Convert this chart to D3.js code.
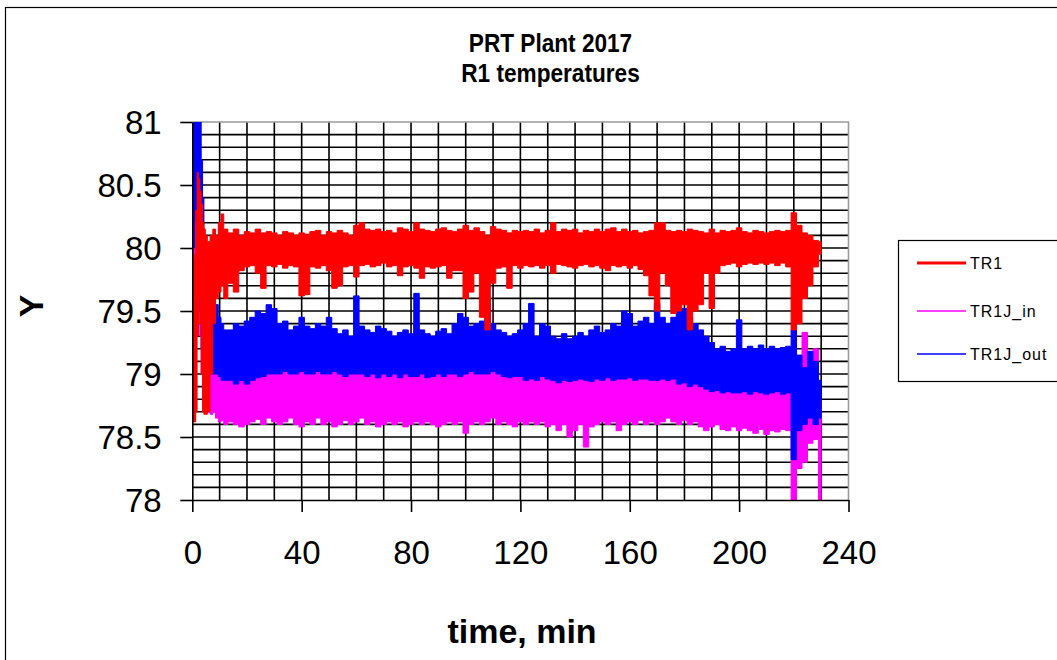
<!DOCTYPE html>
<html>
<head>
<meta charset="utf-8">
<script src="https://cdn.jsdelivr.net/npm/d3@7"></script>
<style>
  html, body { margin: 0; padding: 0; background: #fff; }
  svg { display: block; font-family: "Liberation Sans", Arial, sans-serif; }
</style>
</head>
<body>
<svg id="chart" width="1057" height="660"></svg>
<script>
// ---- data ----
const time = [0,0.5,1,1.5,2,2.5,3,3.5,4,4.5,5,6,7,8,9,10,11,12,
  14,16,18,20,22,24,26,28,30,32,34,36,38,40,42,44,46,48,50,52,54,56,58,
  60,62,64,66,68,70,72,74,76,78,80,82,84,86,88,90,92,94,96,98,100,102,104,106,108,110,112,114,116,118,
  120,122,124,126,128,130,132,134,136,138,140,142,144,146,148,150,152,154,156,158,160,162,164,166,168,170,172,174,176,178,
  180,182,184,186,188,190,192,194,196,198,200,202,204,206,208,210,212,214,216,218,220,222,224,226,228,230];

const tr1Hi = [80.0,79.95,79.9,80.3,80.6,80.55,80.45,80.35,80.2,80.15,80.1,80.05,80.1,80.15,80.1,80.2,80.27,80.15,
  80.12,80.15,80.1,80.13,80.12,80.15,80.12,80.13,80.12,80.1,80.13,80.12,80.1,80.12,80.11,80.13,80.14,80.1,80.13,80.12,80.14,80.12,80.1,
  80.18,80.2,80.15,80.14,80.15,80.13,80.14,80.12,80.16,80.15,80.13,80.2,80.15,80.14,80.13,80.15,80.16,80.14,80.13,80.15,80.18,80.14,80.16,80.13,80.1,80.17,80.15,80.14,80.12,80.14,
  80.13,80.14,80.13,80.15,80.12,80.14,80.2,80.13,80.15,80.14,80.15,80.12,80.14,80.13,80.15,80.13,80.15,80.16,80.13,80.15,80.13,80.14,80.12,80.13,80.14,80.2,80.2,80.14,80.13,80.14,
  80.13,80.15,80.14,80.13,80.12,80.15,80.12,80.14,80.13,80.14,80.16,80.13,80.12,80.14,80.13,80.12,80.13,80.14,80.13,80.14,80.28,80.18,80.12,80.1,80.06,80.05];
const tr1Lo = [79.85,78.62,78.62,78.7,79.3,79.6,79.4,79.0,78.7,78.68,78.68,78.7,79.0,79.4,79.6,79.65,79.7,79.6,
  79.72,79.65,79.82,79.85,79.86,79.8,79.68,79.86,79.85,79.87,79.84,79.86,79.85,79.62,79.63,79.85,79.84,79.86,79.82,79.68,79.7,79.85,79.86,
  79.77,79.86,79.87,79.85,79.86,79.88,79.85,79.86,79.78,79.85,79.86,79.84,79.76,79.85,79.84,79.85,79.86,79.76,79.82,79.82,79.6,79.65,79.8,79.45,79.35,79.72,79.84,79.85,79.68,79.86,
  79.84,79.86,79.85,79.86,79.84,79.86,79.8,79.87,79.86,79.85,79.84,79.86,79.87,79.85,79.86,79.84,79.82,79.86,79.85,79.86,79.84,79.86,79.83,79.78,79.62,79.5,79.8,79.7,79.48,79.5,
  79.55,79.35,79.5,79.55,79.8,79.52,79.8,79.86,79.87,79.88,79.85,79.87,79.88,79.87,79.88,79.87,79.88,79.86,79.88,79.85,79.35,79.4,79.6,79.7,79.85,79.95];

const inHi = [79.6,80.0,80.5,80.85,80.7,80.4,80.3,80.0,79.6,79.3,79.3,79.25,79.3,79.2,79.15,79.1,79.12,79.05,
  79.1,79.05,79.02,79.1,79.05,79.08,79.15,79.05,79.1,79.05,79.1,79.08,79.05,79.12,79.05,79.08,79.1,79.05,79.1,79.05,79.08,79.05,79.06,
  79.1,79.05,79.08,79.05,79.1,79.06,79.05,79.08,79.05,79.1,79.06,79.4,79.05,79.08,79.05,79.1,79.05,79.08,79.05,79.1,79.15,79.05,79.08,79.1,79.12,79.05,79.08,79.05,79.06,79.05,
  79.05,79.08,79.1,79.05,79.08,79.05,79.06,79.05,79.08,79.05,79.06,79.1,79.05,79.08,79.05,79.06,79.05,79.08,79.1,79.12,79.05,79.08,79.06,79.1,79.05,79.2,79.1,79.08,79.1,79.15,
  79.2,79.15,79.3,79.1,79.05,79.02,79.0,79.02,78.98,79.0,79.05,78.98,79.0,79.02,78.98,79.0,79.05,79.0,78.98,79.0,79.0,78.9,79.33,79.0,79.2,78.8];
const inLo = [79.4,79.5,79.6,79.7,79.6,79.5,79.3,79.0,78.8,78.72,78.7,78.7,78.68,78.7,78.65,78.62,78.63,78.6,
  78.62,78.6,78.58,78.6,78.62,78.64,78.6,78.65,78.62,78.6,78.62,78.65,78.6,78.58,78.62,78.6,78.65,78.6,78.62,78.58,78.6,78.63,78.6,
  78.62,78.65,78.6,78.62,78.58,78.6,78.62,78.6,78.62,78.58,78.6,78.62,78.6,78.62,78.6,78.58,78.6,78.62,78.6,78.62,78.53,78.6,78.62,78.6,78.62,78.65,78.6,78.62,78.6,78.58,
  78.62,78.6,78.62,78.6,78.62,78.58,78.6,78.55,78.6,78.5,78.55,78.6,78.42,78.58,78.6,78.62,78.6,78.62,78.55,78.6,78.62,78.6,78.63,78.6,78.62,78.6,78.62,78.65,78.62,78.6,
  78.63,78.6,78.62,78.58,78.55,78.58,78.6,78.56,78.55,78.58,78.55,78.57,78.55,78.53,78.56,78.52,78.55,78.54,78.56,78.55,78.0,78.25,78.3,78.45,78.48,78.0];

const outHi = [80.5,81.2,81.2,81.2,81.0,81.2,81.2,80.7,80.4,80.0,79.9,79.8,79.65,79.6,79.55,79.45,79.4,79.35,
  79.35,79.4,79.38,79.42,79.45,79.5,79.48,79.55,79.52,79.4,79.42,79.35,79.38,79.45,79.38,79.36,79.4,79.38,79.45,79.36,79.32,79.35,79.3,
  79.62,79.38,79.35,79.33,79.38,79.36,79.34,79.3,79.33,79.35,79.32,79.64,79.35,79.32,79.3,79.34,79.36,79.32,79.4,79.48,79.45,79.38,79.4,79.42,79.6,79.4,79.35,79.33,79.3,79.32,
  79.35,79.4,79.56,79.3,79.4,79.38,79.3,79.28,79.32,79.28,79.3,79.33,79.3,79.35,79.38,79.33,79.35,79.4,79.38,79.5,79.48,79.38,79.42,79.45,79.4,79.56,79.45,79.4,79.45,79.5,
  79.52,79.45,79.4,79.35,79.3,79.25,79.2,79.22,79.18,79.2,79.43,79.2,79.22,79.2,79.23,79.2,79.22,79.2,79.21,79.22,79.35,79.15,79.05,79.18,79.1,78.95];
const outLo = [79.9,80.0,80.2,80.3,80.0,79.9,79.5,79.2,79.0,78.98,78.98,79.0,79.0,79.0,79.0,78.98,78.95,78.95,
  78.95,78.92,78.95,78.92,78.95,78.97,78.98,79.0,79.0,79.0,79.02,79.0,79.0,79.02,79.0,79.0,79.02,79.0,79.0,79.02,79.0,78.98,79.0,
  79.0,79.0,78.98,79.0,78.97,79.0,78.98,79.0,78.97,79.0,78.98,78.98,79.0,78.97,78.98,79.0,78.98,79.0,79.0,78.98,79.0,79.02,79.0,79.0,79.0,79.02,79.0,78.98,78.97,78.98,
  78.98,78.95,78.96,78.95,78.98,78.96,78.95,78.93,78.95,78.94,78.95,78.96,78.95,78.94,78.96,78.95,78.97,78.95,78.96,78.96,78.97,78.95,78.96,78.96,78.95,78.95,78.96,78.95,78.96,78.92,
  78.93,78.9,78.92,78.9,78.88,78.86,78.87,78.85,78.86,78.85,78.85,78.86,78.84,78.86,78.85,78.84,78.85,78.86,78.84,78.85,78.32,78.55,78.6,78.65,78.6,78.65];

const seriesNames = ["TR1", "TR1J_in", "TR1J_out"];
const seriesColors = ["#ff0000", "#ff00ff", "#0000ff"];
const xTicks = [0, 40, 80, 120, 160, 200, 240];
const yTicks = [78, 78.5, 79, 79.5, 80, 80.5, 81];
const titleLines = ["PRT Plant 2017", "R1 temperatures"];
const xTitle = "time, min";
const yTitle = "Y";

// ---- drawing ----
const svg = d3.select("#chart");
const L = 192.3, R = 848.5, T = 122, B = 500;
const x = d3.scaleLinear().domain([0, 240]).range([L, R]);
const y = d3.scaleLinear().domain([78, 81]).range([B, T]);

// outer chart frame
svg.append("rect").attr("x", 5.5).attr("y", 7.5).attr("width", 1100).attr("height", 700)
  .attr("fill", "none").attr("stroke", "#000").attr("stroke-width", 1.2);

// title
titleLines.forEach((t, i) => {
  svg.append("text")
    .attr("transform", `translate(550.5,${i === 0 ? 51.5 : 81.5}) scale(0.87,1)`)
    .attr("text-anchor", "middle").attr("font-weight", "bold").attr("font-size", 26)
    .attr("fill", "#000").text(t);
});

// grid
const gGrid = svg.append("g");
gGrid.selectAll("line.h").data(d3.range(1, 30).map(i => 78 + i / 10)).join("line")
  .attr("x1", L).attr("x2", R).attr("y1", d => y(d)).attr("y2", d => y(d))
  .attr("stroke", "#000").attr("stroke-width", 1.6);
gGrid.selectAll("line.v").data(d3.range(1, 24).map(i => i * 10)).join("line")
  .attr("y1", T).attr("y2", B).attr("x1", d => x(d)).attr("x2", d => x(d))
  .attr("stroke", "#000").attr("stroke-width", 1.6);
// plot border (top/right grey)
svg.append("path").attr("d", `M${L},${T}H${R}V${B}`).attr("fill", "none")
  .attr("stroke", "#9a9a9a").attr("stroke-width", 1.6);

// series
svg.append("clipPath").attr("id", "clip").append("rect")
  .attr("x", L).attr("y", T).attr("width", R - L).attr("height", B - T);
const gS = svg.append("g").attr("clip-path", "url(#clip)");
const idx = d3.range(time.length);
function band(hi, lo, color) {
  const area = d3.area().curve(d3.curveStep)
    .x(i => x(time[i])).y0(i => y(lo[i])).y1(i => y(hi[i]));
  gS.append("path").datum(idx).attr("d", area)
    .attr("fill", color).attr("stroke", color).attr("stroke-width", 1).attr("stroke-linejoin", "miter");
}
band(inHi, inLo, seriesColors[1]);
band(outHi, outLo, seriesColors[2]);
band(tr1Hi, tr1Lo, seriesColors[0]);

// axes
const yAxis = d3.axisLeft(y).tickValues(yTicks).tickSize(12).tickSizeOuter(0).tickPadding(18.6)
  .tickFormat(d => String(d));
const gy = svg.append("g").attr("transform", `translate(${L},0)`).call(yAxis);
const xAxis = d3.axisBottom(x).tickValues(xTicks).tickSize(12).tickSizeOuter(0).tickPadding(29);
const gx = svg.append("g").attr("transform", `translate(0,${B})`).call(xAxis);
[gx, gy].forEach(g => {
  g.select(".domain").attr("stroke", "#000").attr("stroke-width", 1.6);
  g.selectAll(".tick line").attr("stroke", "#000").attr("stroke-width", 1.6);
  g.selectAll(".tick text").attr("font-size", 33).attr("fill", "#000")
    .attr("font-family", "Liberation Sans, Arial, sans-serif");
});
gy.selectAll(".tick text").attr("dy", "0.36em");

// axis titles
svg.append("text").attr("x", 522).attr("y", 643).attr("text-anchor", "middle")
  .attr("font-weight", "bold").attr("font-size", 34).text(xTitle);
svg.append("text").attr("transform", "translate(43,306) rotate(-90)").attr("text-anchor", "middle")
  .attr("font-weight", "bold").attr("font-size", 34).text(yTitle);

// legend
const lg = svg.append("g");
lg.append("rect").attr("x", 898.5).attr("y", 240.5).attr("width", 200).attr("height", 141)
  .attr("fill", "#fff").attr("stroke", "#000").attr("stroke-width", 1.2);
const legY = [263, 311, 354];
const legW = [3.2, 1.6, 1.6];
seriesNames.forEach((n, i) => {
  lg.append("line").attr("x1", 917).attr("x2", 966).attr("y1", legY[i]).attr("y2", legY[i])
    .attr("stroke", seriesColors[i]).attr("stroke-width", legW[i]);
  lg.append("text").attr("x", 970).attr("y", legY[i] + 6).attr("font-size", 16)
    .attr("letter-spacing", 1).attr("fill", "#000").text(n);
});
</script>
</body>
</html>
